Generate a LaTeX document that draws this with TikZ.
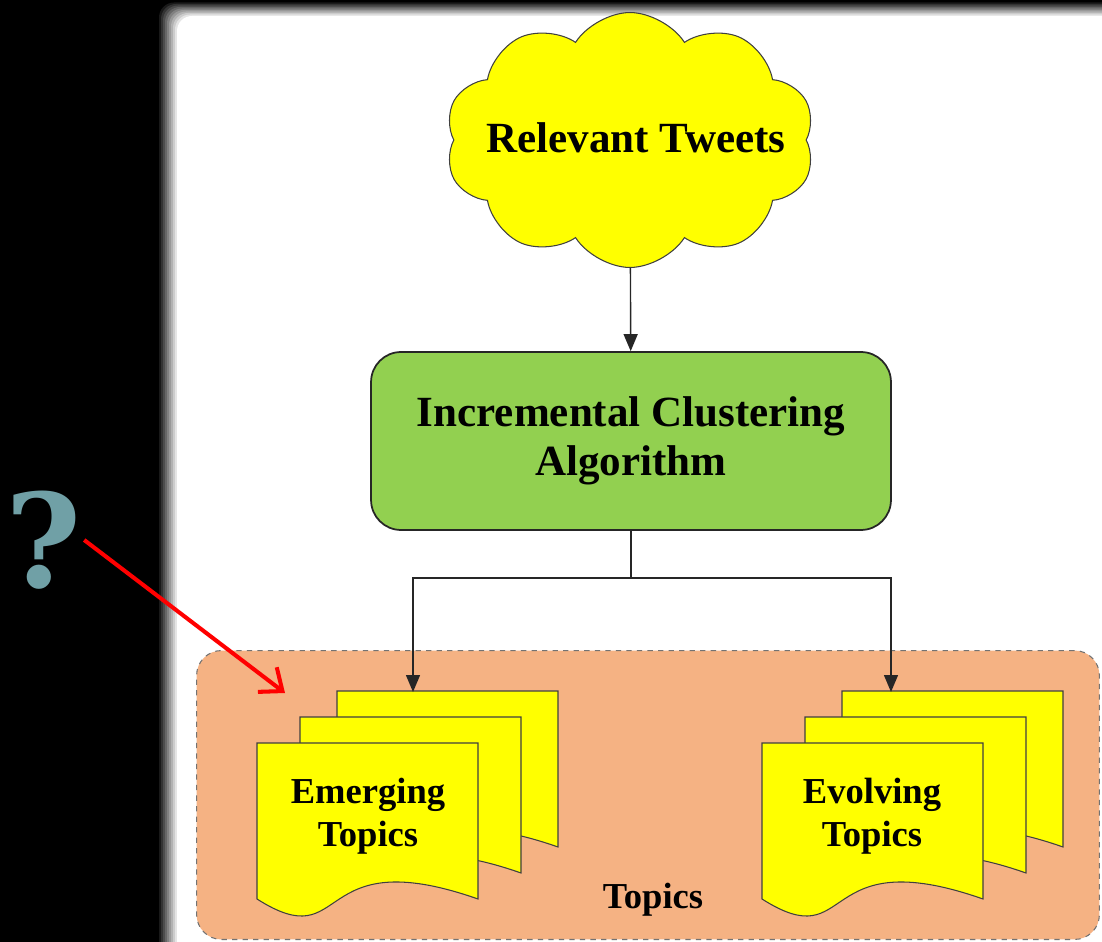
\documentclass[tikz,border=0pt]{standalone}
\usepackage{fontspec}
\setmainfont{Liberation Serif}
\newfontfamily\qfont{DejaVu Serif}
\usetikzlibrary{arrows.meta}
\usetikzlibrary{shapes.geometric}
\usetikzlibrary{shapes.symbols}

\definecolor{tweetyellow}{RGB}{255,255,0}
\definecolor{algogreen}{RGB}{146,208,80}
\definecolor{topicorange}{RGB}{245,178,131}
\definecolor{qteal}{RGB}{112,160,166}

\begin{document}
\begin{tikzpicture}[x=0.02cm,y=-0.02cm,>={Triangle[length=0.34cm,width=0.28cm]},
    cloudbox/.style={cloud,cloud puffs=10,cloud puff arc=115,aspect=1.45,fill=tweetyellow,draw=black!75,line width=0.6pt,minimum width=7.4cm,minimum height=5.1cm,inner sep=0pt},
    bigtext/.style={align=center,font=\fontsize{24.5}{28}\selectfont\bfseries},
    algobox/.style={bigtext,rectangle,rounded corners=0.6cm,fill=algogreen,draw=black!85,line width=1pt,minimum width=10.4cm,minimum height=3.56cm},
    topicbox/.style={rectangle,rounded corners=0.5cm,fill=topicorange,draw=black!55,dashed,line width=0.6pt,minimum width=18.06cm,minimum height=5.78cm},
    docpage/.style={fill=tweetyellow,draw=black!75,line width=0.6pt},
    doctext/.style={align=center,font=\fontsize{20.8}{24.5}\selectfont\bfseries},
    link/.style={draw=black!85,line width=0.8pt},
    redarrow/.style={draw=red,line width=2.3pt,-{Straight Barb[length=0.38cm,width=0.62cm]}}]
                \useasboundingbox (0,0) rectangle (1102,942);
                \fill[black] (0,0) rectangle (1102,942);
                % white sheet, soft edge
                \begin{scope}
                \clip (0,0) rectangle (1102,942);
                \foreach \k in {0,...,10}{
                    \pgfmathtruncatemacro\g{100-10*\k}
                    \fill[black!\g,rounded corners=0.3cm] (157+2*\k,1+1.5*\k) rectangle (1140,980);
                }
                \end{scope}
                \node[cloudbox] (tweets) at (630,140) {};
                \node[bigtext] (tweetslabel) at (636,138) {Relevant Tweets};
                \node[algobox] (algo) at (631,441) {Incremental Clustering\\Algorithm};
                \node[topicbox] (topics) at (648,795) {};
                % stacked pages
                \foreach \docx in {257,762}{
                    \foreach \dx/\dy in {80/-52,43/-26,0/0}{
                        \filldraw[docpage,shift={(\docx+\dx,743+\dy)}] (0,0)--(221,0)--(221,156)
                            .. controls (53,97) and (93,215) .. (0,156)--cycle;
                    }
                }
                \node[doctext] (emerging) at (368,816) {Emerging\\Topics};
                \node[doctext] (evolving) at (872,816) {Evolving\\Topics};
                \node[doctext] (topicslabel) at (653,900) {Topics};
                \coordinate (branch) at (631,578);
                \coordinate (emtop) at (413,692);
                \coordinate (evtop) at (891,692);
                \draw[link,->] (tweets)--(algo);
                \draw[link] (algo.south)--(branch);
                \draw[link,->] (branch)-|(emtop);
                \draw[link,->] (branch)-|(evtop);
                \node[text=qteal,inner sep=1pt,font=\qfont\fontsize{74}{74}\selectfont\bfseries] (qmark) at (44,540) {?};
                \coordinate (qtarget) at (285,693);
                \draw[redarrow] (qmark.east)--(qtarget);
            \end{tikzpicture}
\end{document}
